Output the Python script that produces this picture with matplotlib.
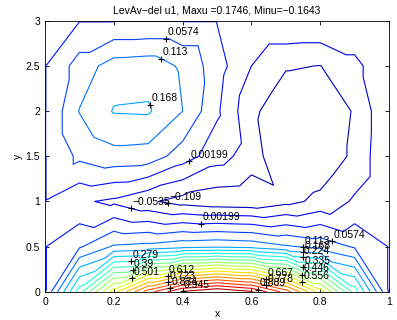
import numpy as np
import matplotlib
matplotlib.use("Agg")
import matplotlib.pyplot as plt
import matplotlib.tri as mtri
from matplotlib.colors import Normalize

# mesh nodes
x_nodes = [0.0, 0.1, 0.2, 0.3, 0.4, 0.5, 0.6, 0.7, 0.8, 0.9, 1.0]
y_nodes = [0.0, 0.5, 1.0, 1.5, 2.0, 2.5, 3.0]

# u1 at the nodes, one row per y level
u_y00 = [0, 0.309, 0.588, 0.809, 0.951, 1.0, 0.951, 0.809, 0.588, 0.309, 0]
u_y05 = [0, 0.05, 0.12, 0.13, 0.15, 0.158, 0.15, 0.12, 0.095, 0.05, 0]
u_y10 = [0, -0.045, -0.064, -0.10, -0.13, -0.145, -0.15, -0.125, -0.095, -0.045, 0]
u_y15 = [0, 0.07, 0.094, 0.089, 0.03, -0.03, -0.08, -0.16434, -0.15, -0.097, 0]
u_y20 = [0, 0.115, 0.172, 0.1746, 0.113, 0.011, -0.096, -0.148, -0.15, -0.104, 0]
u_y25 = [0, 0.082, 0.138, 0.145, 0.104, 0.026, -0.0535, -0.104, -0.11, -0.071, 0]
u_y30 = [0, 0, 0, 0, 0, 0, 0, 0, 0, 0, 0]

n_levels = 20
title_text = "LevAv\u2212del u1, Maxu =0.1746, Minu=\u22120.1643"

# clabel spots: (level index, approx x, approx y)
label_spots = [
    (3, 0.352, 2.77), (4, 0.335, 2.57), (5, 0.305, 2.07), (2, 0.42, 1.45),
    (0, 0.358, 0.985), (1, 0.249, 0.912), (2, 0.453, 0.757), (3, 0.833, 0.547),
    (4, 0.75, 0.51), (5, 0.75, 0.46), (6, 0.75, 0.395), (8, 0.75, 0.285),
    (10, 0.75, 0.19), (12, 0.75, 0.11), (7, 0.25, 0.35), (9, 0.25, 0.26),
    (11, 0.25, 0.166), (13, 0.355, 0.19), (15, 0.355, 0.13), (17, 0.36, 0.07),
    (19, 0.40, 0.035), (14, 0.645, 0.16), (16, 0.645, 0.10), (18, 0.62, 0.03),
]

plt.rcParams["font.family"] = ["Liberation Sans", "DejaVu Sans"]

u = np.array([u_y00, u_y05, u_y10, u_y15, u_y20, u_y25, u_y30])
X, Y = np.meshgrid(x_nodes, y_nodes)
nx, ny = len(x_nodes), len(y_nodes)

# split every quad into two triangles, diagonals mirrored about x = 0.5
triangles = []
for j in range(ny - 1):
    for i in range(nx - 1):
        a = j * nx + i      # lower left
        b = a + 1           # lower right
        c = a + nx + 1      # upper right
        d = a + nx          # upper left
        if x_nodes[i] < 0.5:
            triangles += [[a, b, c], [a, c, d]]
        else:
            triangles += [[a, b, d], [b, c, d]]
tri = mtri.Triangulation(X.ravel(), Y.ravel(), triangles)

u_min, u_max = u.min(), u.max()
levels = np.linspace(u_min, u_max, n_levels + 2)[1:-1]

fig = plt.figure(figsize=(3.97, 3.2), dpi=100)
ax = fig.add_axes([0.1134, 0.0884, 0.8666, 0.8466])
cs = ax.tricontour(tri, u.ravel(), levels=levels, cmap="jet",
                   norm=Normalize(u_min, u_max), linewidths=0.8)

# MATLAB style labels: a '+' on the line and the value up-right of it
for k, hx, hy in label_spots:
    pts = []
    for poly in cs.get_paths()[k].to_polygons(closed_only=False):
        for p, q in zip(poly[:-1], poly[1:]):
            t = np.linspace(0, 1, 30)[:, None]
            pts.append(p + (q - p) * t)
    pts = np.vstack(pts)
    d = (pts[:, 0] - hx) ** 2 + ((pts[:, 1] - hy) / 3.0) ** 2
    px, py = pts[np.argmin(d)]
    ax.plot(px, py, "k+", markersize=5, markeredgewidth=0.8)
    txt = ("%.3g" % levels[k]).replace("-", "\u2212")
    ax.annotate(txt, (px, py), xytext=(1, 1), textcoords="offset points",
                fontsize=7.5, ha="left", va="bottom")

ax.set_xlim(0, 1)
ax.set_ylim(0, 3)
ax.set_xticks([0, 0.2, 0.4, 0.6, 0.8, 1])
ax.set_xticklabels(["0", "0.2", "0.4", "0.6", "0.8", "1"])
ax.set_yticks([0, 0.5, 1, 1.5, 2, 2.5, 3])
ax.set_yticklabels(["0", "0.5", "1", "1.5", "2", "2.5", "3"])
ax.tick_params(direction="in", top=True, right=True, labelsize=7.5, length=3, width=0.6)
for s in ax.spines.values():
    s.set_linewidth(0.6)
ax.set_xlabel("x", fontsize=7.5, labelpad=2)
ax.set_ylabel("y", fontsize=7.5, labelpad=2)
ax.set_title(title_text, fontsize=7.5, pad=5)

fig.savefig("out.png", dpi=100)
